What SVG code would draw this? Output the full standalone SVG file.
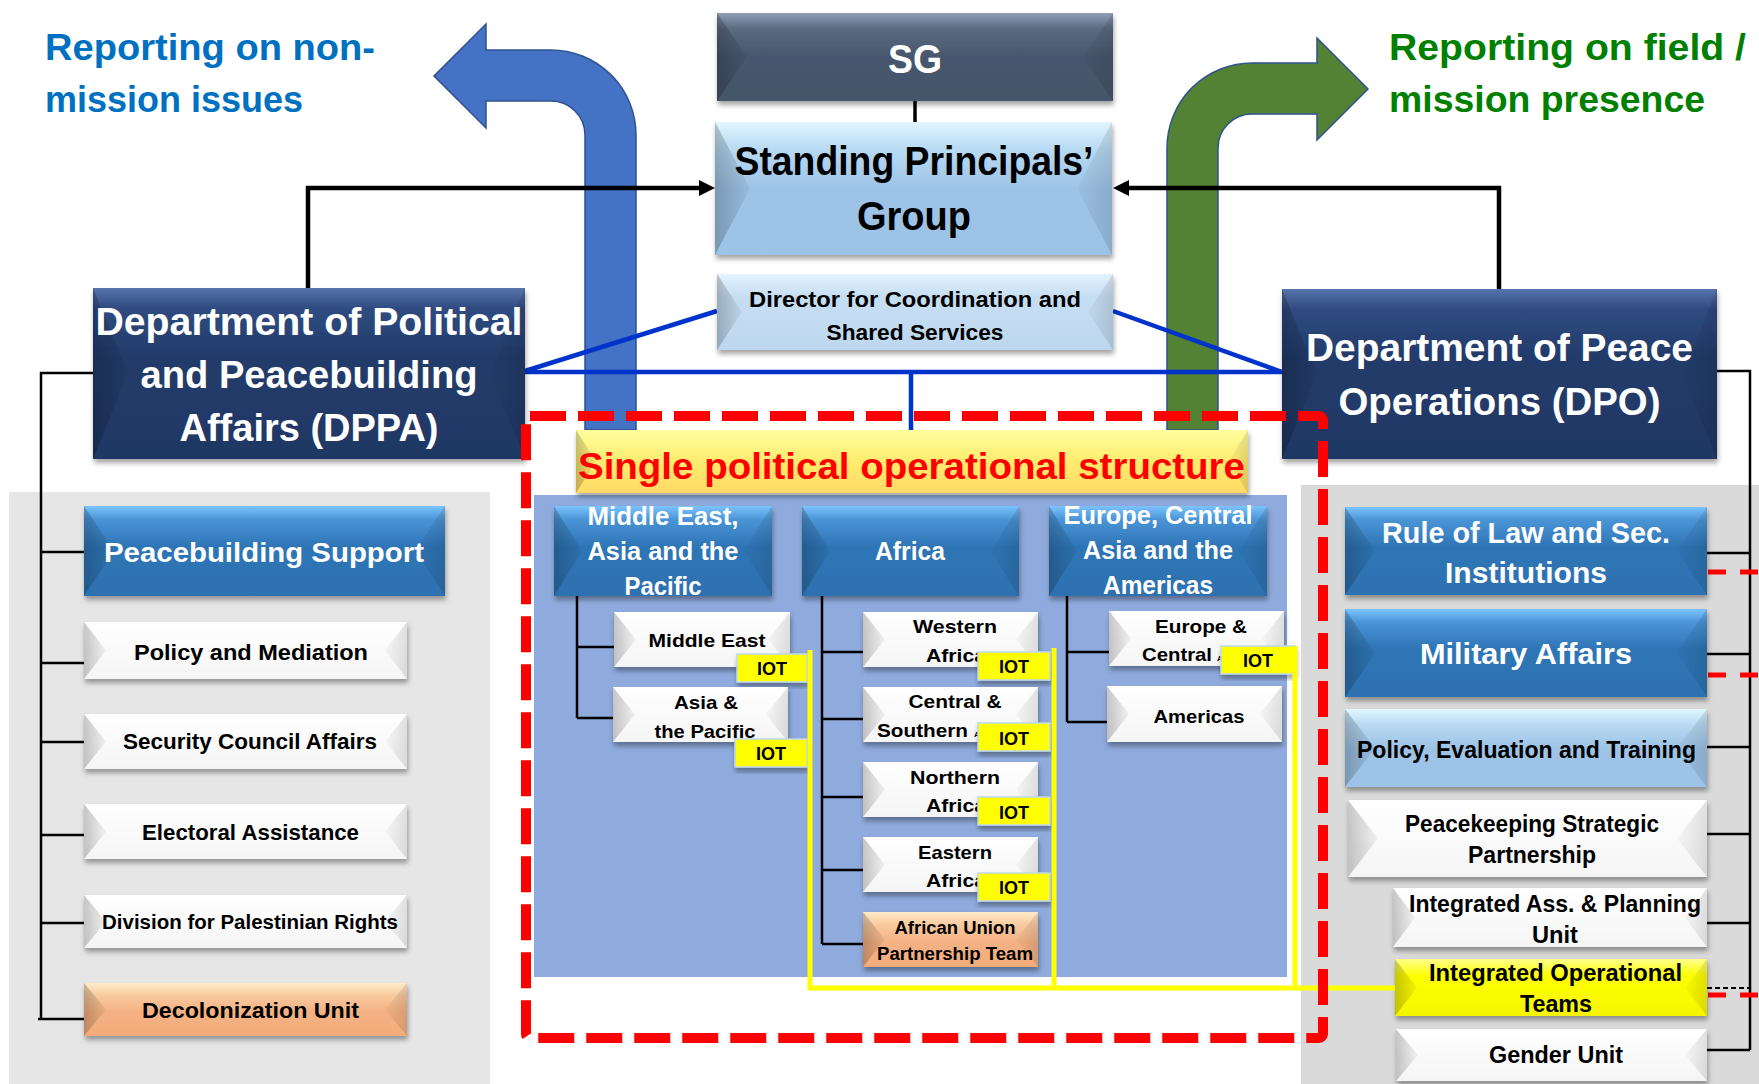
<svg xmlns="http://www.w3.org/2000/svg" width="1759" height="1084" viewBox="0 0 1759 1084">
<defs>
<style>
.t{font-family:"Liberation Sans",Arial,sans-serif;font-weight:bold;text-anchor:middle}
.tl{font-family:"Liberation Sans",Arial,sans-serif;font-weight:bold;text-anchor:start}
.w{fill:#fff}.k{fill:#000}
.fNavy{fill:url(#gNavy)}.fSlate{fill:url(#gSlate)}.fBlue{fill:url(#gBlue)}.fLB{fill:url(#gLB)}
.fDir{fill:url(#gDir)}.fWhite{fill:url(#gWhite)}.fPeach{fill:url(#gPeach)}.fYel{fill:url(#gYel)}.fTitle{fill:url(#gTitle)}
.bL{fill:url(#bvL)}.bR{fill:url(#bvR)}
.iot{fill:#FFFF00;stroke:#BDD7EE;stroke-width:1.5}
.conn{stroke:#000;stroke-width:2.5;fill:none}
.arr{stroke:#000;stroke-width:4.5;fill:none}
.bl{stroke:#0033CC;stroke-width:4.5;fill:none}
.yl{stroke:#FFFF00;stroke-width:5;fill:none}
.rd{stroke:#FF0000;stroke-width:10;stroke-dasharray:36 12;fill:none}
.rds{stroke:#FF0000;stroke-width:5;stroke-dasharray:18 14;fill:none}
</style>
<filter id="sh" x="-5%" y="-10%" width="112%" height="135%">
<feDropShadow dx="1" dy="4" stdDeviation="2.5" flood-color="#000" flood-opacity="0.35"/>
</filter>
<linearGradient id="gNavy" x1="0" y1="0" x2="0" y2="1"><stop offset="0" stop-color="#5673AB"/><stop offset="0.12" stop-color="#2F4B80"/><stop offset="0.4" stop-color="#223B6A"/><stop offset="1" stop-color="#1F3864"/></linearGradient>
<linearGradient id="gSlate" x1="0" y1="0" x2="0" y2="1"><stop offset="0" stop-color="#8D9EB6"/><stop offset="0.18" stop-color="#5A6A81"/><stop offset="0.5" stop-color="#47576E"/><stop offset="1" stop-color="#44546A"/></linearGradient>
<linearGradient id="gBlue" x1="0" y1="0" x2="0" y2="1"><stop offset="0" stop-color="#7CC4FF"/><stop offset="0.15" stop-color="#4A94D6"/><stop offset="0.45" stop-color="#2E75B6"/><stop offset="1" stop-color="#2E71B0"/></linearGradient>
<linearGradient id="gLB" x1="0" y1="0" x2="0" y2="1"><stop offset="0" stop-color="#E2F7FF"/><stop offset="0.2" stop-color="#B8DAF3"/><stop offset="0.5" stop-color="#9DC3E6"/><stop offset="1" stop-color="#9CC2E5"/></linearGradient>
<linearGradient id="gDir" x1="0" y1="0" x2="0" y2="1"><stop offset="0" stop-color="#E3F2FF"/><stop offset="0.3" stop-color="#C6DEF2"/><stop offset="1" stop-color="#BDD7EE"/></linearGradient>
<linearGradient id="gWhite" x1="0" y1="0" x2="0" y2="1"><stop offset="0" stop-color="#FFFFFF"/><stop offset="1" stop-color="#F5F5F5"/></linearGradient>
<linearGradient id="gPeach" x1="0" y1="0" x2="0" y2="1"><stop offset="0" stop-color="#FFEBC9"/><stop offset="0.25" stop-color="#F8C89C"/><stop offset="0.55" stop-color="#F4B183"/><stop offset="1" stop-color="#F2AC7B"/></linearGradient>
<linearGradient id="gYel" x1="0" y1="0" x2="0" y2="1"><stop offset="0" stop-color="#FFFF8C"/><stop offset="0.3" stop-color="#FFFF00"/><stop offset="1" stop-color="#F5F500"/></linearGradient>
<linearGradient id="gTitle" x1="0" y1="0" x2="0" y2="1"><stop offset="0" stop-color="#FFFFA0"/><stop offset="0.5" stop-color="#FFEC6E"/><stop offset="1" stop-color="#FFD966"/></linearGradient>
<linearGradient id="bvL" x1="0" y1="0" x2="1" y2="0"><stop offset="0" stop-color="#000" stop-opacity="0.22"/><stop offset="1" stop-color="#000" stop-opacity="0.04"/></linearGradient>
<linearGradient id="bvR" x1="0" y1="0" x2="1" y2="0"><stop offset="0" stop-color="#000" stop-opacity="0.02"/><stop offset="1" stop-color="#000" stop-opacity="0.12"/></linearGradient>
<marker id="ah" viewBox="0 0 10 10" refX="2.5" refY="5" markerWidth="16" markerHeight="17" markerUnits="userSpaceOnUse" orient="auto"><path d="M0,0 L10,5 L0,10 z" fill="#000"/></marker>
</defs>

<rect x="0" y="0" width="1759" height="1084" fill="#fff"/>

<!-- background panels -->
<rect x="9" y="492" width="481" height="592" fill="#E6E6E6"/>
<rect x="1301" y="485" width="458" height="599" fill="#DADADA"/>
<rect x="534" y="495" width="753" height="482" fill="#8FAADC"/>

<!-- headline texts -->
<g id="label-left">
<text class="tl" x="45" y="60" font-size="37" fill="#0070C0" textLength="330" lengthAdjust="spacingAndGlyphs">Reporting on non-</text>
<text class="tl" x="45" y="112" font-size="37" fill="#0070C0" textLength="258" lengthAdjust="spacingAndGlyphs">mission issues</text>
</g>
<g id="label-right">
<text class="tl" x="1389" y="60" font-size="37" fill="#008000" textLength="357" lengthAdjust="spacingAndGlyphs">Reporting on field /</text>
<text class="tl" x="1389" y="112" font-size="37" fill="#008000" textLength="316" lengthAdjust="spacingAndGlyphs">mission presence</text>
</g>

<!-- bent arrows -->
<g id="arrow-blue">
<path d="M636,430 L636,135 A85,85 0 0 0 551,50 L486,50 L486,24 L434,76 L486,128 L486,101 L551,101 A34,34 0 0 1 585,135 L585,430 Z" fill="#4472C4" stroke="#2F528F" stroke-width="1.5"/>
</g>
<g id="arrow-green">
<path d="M1167,430 L1167,148 A85,85 0 0 1 1252,63 L1317,63 L1317,38 L1368,89 L1317,140 L1317,114 L1252,114 A34,34 0 0 0 1218,148 L1218,430 Z" fill="#548235" stroke="#2F528F" stroke-width="1.5"/>
</g>

<!-- connectors -->
<g id="connectors">
<line x1="915" y1="101" x2="915" y2="122" stroke="#000" stroke-width="3.5"/>
<polyline class="arr" points="308,288 308,188 703,188" marker-end="url(#ah)"/>
<polyline class="arr" points="1499,289 1499,188 1125,188" marker-end="url(#ah)"/>
<line class="bl" x1="717" y1="311" x2="525" y2="371"/>
<line class="bl" x1="525" y1="372" x2="1282" y2="372"/>
<line class="bl" x1="1113" y1="311" x2="1282" y2="372"/>
<line class="bl" x1="911" y1="372" x2="911" y2="430"/>
<path class="conn" d="M93,373 H41 V1019 M41,552 H84 M41,663 H84 M41,742 H84 M41,835 H84 M41,923 H84 M38,1019 H84"/>
<path class="conn" d="M1717,371 H1750 V1050 M1707,553 H1750 M1707,654 H1750 M1707,747 H1750 M1707,834 H1750 M1707,923 H1750 M1707,1050 H1750"/>
<path d="M1707,988 H1750" stroke="#000" stroke-width="2" stroke-dasharray="5 3" fill="none"/>
<path class="rds" d="M1708,572 H1759 M1708,675 H1759 M1708,995 H1759"/>
<path class="conn" d="M577,596 V718 M577,647 H614 M577,718 H613"/>
<path class="conn" d="M822,596 V944 M822,652 H863 M822,719 H863 M822,797 H863 M822,870 H863 M822,944 H863"/>
<path class="conn" d="M1067,596 V722 M1067,652 H1109 M1067,722 H1107"/>
</g>

<!-- top nodes -->
<g id="sg">
<rect x="717" y="13" width="396" height="88" class="fSlate" filter="url(#sh)"/>
<polygon class="bL" points="717,13 747,57 717,101"/><polygon class="bR" points="1113,13 1083,57 1113,101"/>
<text class="t w" x="915" y="73" font-size="40" textLength="54" lengthAdjust="spacingAndGlyphs">SG</text>
</g>
<g id="spg">
<rect x="715" y="122" width="397" height="133" class="fLB" filter="url(#sh)"/>
<polygon class="bL" points="715,122 750,188.5 715,255"/><polygon class="bR" points="1112,122 1077,188.5 1112,255"/>
<text class="t k" x="914" y="175" font-size="40" textLength="359" lengthAdjust="spacingAndGlyphs">Standing Principals’</text>
<text class="t k" x="914" y="230" font-size="40" textLength="114" lengthAdjust="spacingAndGlyphs">Group</text>
</g>
<g id="director">
<rect x="717" y="274" width="396" height="76" class="fDir" filter="url(#sh)"/>
<polygon class="bL" points="717,274 742,312 717,350"/><polygon class="bR" points="1113,274 1088,312 1113,350"/>
<text class="t k" x="915" y="307" font-size="22" textLength="332" lengthAdjust="spacingAndGlyphs">Director for Coordination and</text>
<text class="t k" x="915" y="340" font-size="22" textLength="177" lengthAdjust="spacingAndGlyphs">Shared Services</text>
</g>
<g id="dppa">
<rect x="93" y="288" width="432" height="171" class="fNavy" filter="url(#sh)"/>
<polygon class="bL" points="93,288 128,373.5 93,459"/><polygon class="bR" points="525,288 490,373.5 525,459"/>
<text class="t w" x="309" y="335" font-size="38" textLength="427" lengthAdjust="spacingAndGlyphs">Department of Political</text>
<text class="t w" x="309" y="388" font-size="38" textLength="337" lengthAdjust="spacingAndGlyphs">and Peacebuilding</text>
<text class="t w" x="309" y="441" font-size="38" textLength="259" lengthAdjust="spacingAndGlyphs">Affairs (DPPA)</text>
</g>
<g id="dpo">
<rect x="1282" y="289" width="435" height="170" class="fNavy" filter="url(#sh)"/>
<polygon class="bL" points="1282,289 1317,374 1282,459"/><polygon class="bR" points="1717,289 1682,374 1717,459"/>
<text class="t w" x="1499.5" y="361" font-size="39" textLength="387" lengthAdjust="spacingAndGlyphs">Department of Peace</text>
<text class="t w" x="1499.5" y="415" font-size="39" textLength="322" lengthAdjust="spacingAndGlyphs">Operations (DPO)</text>
</g>
<g id="title">
<rect x="576" y="430" width="672" height="63" class="fTitle" filter="url(#sh)"/>
<polygon class="bL" points="576,430 596,461.5 576,493"/><polygon class="bR" points="1248,430 1228,461.5 1248,493"/>
<text class="t" x="911.5" y="479" font-size="36" fill="#FF0000" textLength="667" lengthAdjust="spacingAndGlyphs">Single political operational structure</text>
</g>

<!-- DPPA units -->
<g id="peacebuilding">
<rect x="84" y="506" width="361" height="90" class="fBlue" filter="url(#sh)"/>
<polygon class="bL" points="84,506 114,551 84,596"/><polygon class="bR" points="445,506 415,551 445,596"/>
<text class="t w" x="264" y="562" font-size="27" textLength="320" lengthAdjust="spacingAndGlyphs">Peacebuilding Support</text>
</g>
<g id="policy-mediation">
<rect x="84" y="622" width="323" height="57" class="fWhite" filter="url(#sh)"/>
<polygon class="bL" points="84,622 106,650.5 84,679"/><polygon class="bR" points="407,622 385,650.5 407,679"/>
<text class="t k" x="251" y="660" font-size="22" textLength="234" lengthAdjust="spacingAndGlyphs">Policy and Mediation</text>
</g>
<g id="security-council">
<rect x="84" y="714" width="323" height="55" class="fWhite" filter="url(#sh)"/>
<polygon class="bL" points="84,714 106,741.5 84,769"/><polygon class="bR" points="407,714 385,741.5 407,769"/>
<text class="t k" x="250" y="749" font-size="22" textLength="254" lengthAdjust="spacingAndGlyphs">Security Council Affairs</text>
</g>
<g id="electoral">
<rect x="84" y="804" width="323" height="55" class="fWhite" filter="url(#sh)"/>
<polygon class="bL" points="84,804 106,831.5 84,859"/><polygon class="bR" points="407,804 385,831.5 407,859"/>
<text class="t k" x="250.5" y="840" font-size="22" textLength="217" lengthAdjust="spacingAndGlyphs">Electoral Assistance</text>
</g>
<g id="palestinian">
<rect x="84" y="895" width="323" height="53" class="fWhite" filter="url(#sh)"/>
<polygon class="bL" points="84,895 106,921.5 84,948"/><polygon class="bR" points="407,895 385,921.5 407,948"/>
<text class="t k" x="250" y="929" font-size="20" textLength="296" lengthAdjust="spacingAndGlyphs">Division for Palestinian Rights</text>
</g>
<g id="decolonization">
<rect x="84" y="983" width="323" height="53" class="fPeach" filter="url(#sh)"/>
<polygon class="bL" points="84,983 106,1009.5 84,1036"/><polygon class="bR" points="407,983 385,1009.5 407,1036"/>
<text class="t k" x="250.5" y="1018" font-size="22" textLength="217" lengthAdjust="spacingAndGlyphs">Decolonization Unit</text>
</g>

<!-- regional divisions -->
<g id="hdr-meap">
<rect x="554" y="506" width="218" height="90" class="fBlue" filter="url(#sh)"/>
<polygon class="bL" points="554,506 582,551 554,596"/><polygon class="bR" points="772,506 744,551 772,596"/>
<text class="t w" x="663" y="525" font-size="25" textLength="151" lengthAdjust="spacingAndGlyphs">Middle East,</text>
<text class="t w" x="663" y="560" font-size="25" textLength="151" lengthAdjust="spacingAndGlyphs">Asia and the</text>
<text class="t w" x="663" y="595" font-size="25" textLength="77" lengthAdjust="spacingAndGlyphs">Pacific</text>
</g>
<g id="hdr-africa">
<rect x="802" y="506" width="217" height="90" class="fBlue" filter="url(#sh)"/>
<polygon class="bL" points="802,506 830,551 802,596"/><polygon class="bR" points="1019,506 991,551 1019,596"/>
<text class="t w" x="910" y="560" font-size="25" textLength="70" lengthAdjust="spacingAndGlyphs">Africa</text>
</g>
<g id="hdr-europe">
<rect x="1049" y="506" width="218" height="90" class="fBlue" filter="url(#sh)"/>
<polygon class="bL" points="1049,506 1077,551 1049,596"/><polygon class="bR" points="1267,506 1239,551 1267,596"/>
<text class="t w" x="1158" y="524" font-size="25" textLength="189" lengthAdjust="spacingAndGlyphs">Europe, Central</text>
<text class="t w" x="1158" y="559" font-size="25" textLength="150" lengthAdjust="spacingAndGlyphs">Asia and the</text>
<text class="t w" x="1158" y="594" font-size="25" textLength="110" lengthAdjust="spacingAndGlyphs">Americas</text>
</g>

<g id="middle-east">
<rect x="614" y="612" width="176" height="55" class="fWhite" filter="url(#sh)"/>
<polygon class="bL" points="614,612 636,639.5 614,667"/><polygon class="bR" points="790,612 768,639.5 790,667"/>
<text class="t k" x="707" y="647" font-size="19" textLength="117" lengthAdjust="spacingAndGlyphs">Middle East</text>
<rect x="737" y="654" width="70" height="28" class="iot" filter="url(#sh)"/>
<text class="t k" x="772" y="675" font-size="18" textLength="30" lengthAdjust="spacingAndGlyphs">IOT</text>
</g>
<g id="asia-pacific">
<rect x="613" y="687" width="175" height="55" class="fWhite" filter="url(#sh)"/>
<polygon class="bL" points="613,687 635,714.5 613,742"/><polygon class="bR" points="788,687 766,714.5 788,742"/>
<text class="t k" x="706" y="709" font-size="19" textLength="64" lengthAdjust="spacingAndGlyphs">Asia &amp;</text>
<text class="t k" x="705" y="738" font-size="19" textLength="101" lengthAdjust="spacingAndGlyphs">the Pacific</text>
<rect x="735" y="739" width="72" height="28" class="iot" filter="url(#sh)"/>
<text class="t k" x="771" y="760" font-size="18" textLength="30" lengthAdjust="spacingAndGlyphs">IOT</text>
</g>

<g id="western-africa">
<rect x="863" y="612" width="175" height="55" class="fWhite" filter="url(#sh)"/>
<polygon class="bL" points="863,612 885,639.5 863,667"/><polygon class="bR" points="1038,612 1016,639.5 1038,667"/>
<text class="t k" x="955" y="633" font-size="19" textLength="84" lengthAdjust="spacingAndGlyphs">Western</text>
<text class="t k" x="956" y="662" font-size="19" textLength="60" lengthAdjust="spacingAndGlyphs">Africa</text>
<rect x="978" y="652" width="72" height="28" class="iot" filter="url(#sh)"/>
<text class="t k" x="1014" y="673" font-size="18" textLength="30" lengthAdjust="spacingAndGlyphs">IOT</text>
</g>
<g id="central-southern-africa">
<rect x="863" y="687" width="175" height="55" class="fWhite" filter="url(#sh)"/>
<polygon class="bL" points="863,687 885,714.5 863,742"/><polygon class="bR" points="1038,687 1016,714.5 1038,742"/>
<text class="t k" x="955" y="708" font-size="19" textLength="93" lengthAdjust="spacingAndGlyphs">Central &amp;</text>
<text class="tl k" x="877" y="737" font-size="19" textLength="91" lengthAdjust="spacingAndGlyphs">Southern</text>
<text class="tl k" x="974" y="737" font-size="8">Africa</text>
<rect x="978" y="723" width="72" height="28" class="iot" filter="url(#sh)"/>
<text class="t k" x="1014" y="745" font-size="18" textLength="30" lengthAdjust="spacingAndGlyphs">IOT</text>
</g>
<g id="northern-africa">
<rect x="863" y="762" width="175" height="55" class="fWhite" filter="url(#sh)"/>
<polygon class="bL" points="863,762 885,789.5 863,817"/><polygon class="bR" points="1038,762 1016,789.5 1038,817"/>
<text class="t k" x="955" y="784" font-size="19" textLength="90" lengthAdjust="spacingAndGlyphs">Northern</text>
<text class="t k" x="956" y="812" font-size="19" textLength="60" lengthAdjust="spacingAndGlyphs">Africa</text>
<rect x="978" y="797" width="72" height="28" class="iot" filter="url(#sh)"/>
<text class="t k" x="1014" y="819" font-size="18" textLength="30" lengthAdjust="spacingAndGlyphs">IOT</text>
</g>
<g id="eastern-africa">
<rect x="863" y="837" width="175" height="55" class="fWhite" filter="url(#sh)"/>
<polygon class="bL" points="863,837 885,864.5 863,892"/><polygon class="bR" points="1038,837 1016,864.5 1038,892"/>
<text class="t k" x="955" y="859" font-size="19" textLength="74" lengthAdjust="spacingAndGlyphs">Eastern</text>
<text class="t k" x="956" y="887" font-size="19" textLength="60" lengthAdjust="spacingAndGlyphs">Africa</text>
<rect x="978" y="873" width="72" height="28" class="iot" filter="url(#sh)"/>
<text class="t k" x="1014" y="894" font-size="18" textLength="30" lengthAdjust="spacingAndGlyphs">IOT</text>
</g>
<g id="african-union">
<rect x="863" y="912" width="175" height="55" class="fPeach" filter="url(#sh)"/>
<polygon class="bL" points="863,912 885,939.5 863,967"/><polygon class="bR" points="1038,912 1016,939.5 1038,967"/>
<text class="t k" x="955" y="934" font-size="18" textLength="121" lengthAdjust="spacingAndGlyphs">African Union</text>
<text class="t k" x="955" y="960" font-size="18" textLength="156" lengthAdjust="spacingAndGlyphs">Partnership Team</text>
</g>

<g id="europe-central">
<rect x="1109" y="611" width="175" height="55" class="fWhite" filter="url(#sh)"/>
<polygon class="bL" points="1109,611 1131,638.5 1109,666"/><polygon class="bR" points="1284,611 1262,638.5 1284,666"/>
<text class="t k" x="1201" y="633" font-size="19" textLength="92" lengthAdjust="spacingAndGlyphs">Europe &amp;</text>
<text class="tl k" x="1142" y="661" font-size="19" textLength="70" lengthAdjust="spacingAndGlyphs">Central</text>
<text class="tl k" x="1217" y="661" font-size="8">Asia</text>
<rect x="1221" y="646" width="74" height="28" class="iot" filter="url(#sh)"/>
<text class="t k" x="1258" y="667" font-size="18" textLength="30" lengthAdjust="spacingAndGlyphs">IOT</text>
</g>
<g id="americas">
<rect x="1107" y="686" width="175" height="56" class="fWhite" filter="url(#sh)"/>
<polygon class="bL" points="1107,686 1129,714 1107,742"/><polygon class="bR" points="1282,686 1260,714 1282,742"/>
<text class="t k" x="1199" y="723" font-size="19" textLength="91" lengthAdjust="spacingAndGlyphs">Americas</text>
</g>

<!-- DPO units -->
<g id="rule-of-law">
<rect x="1345" y="507" width="362" height="88" class="fBlue" filter="url(#sh)"/>
<polygon class="bL" points="1345,507 1375,551 1345,595"/><polygon class="bR" points="1707,507 1677,551 1707,595"/>
<text class="t w" x="1526" y="543" font-size="29" textLength="288" lengthAdjust="spacingAndGlyphs">Rule of Law and Sec.</text>
<text class="t w" x="1526" y="583" font-size="29" textLength="162" lengthAdjust="spacingAndGlyphs">Institutions</text>
</g>
<g id="military">
<rect x="1345" y="609" width="362" height="88" class="fBlue" filter="url(#sh)"/>
<polygon class="bL" points="1345,609 1375,653 1345,697"/><polygon class="bR" points="1707,609 1677,653 1707,697"/>
<text class="t w" x="1526" y="664" font-size="29" textLength="212" lengthAdjust="spacingAndGlyphs">Military Affairs</text>
</g>
<g id="policy-eval">
<rect x="1345" y="709" width="362" height="78" class="fLB" filter="url(#sh)"/>
<polygon class="bL" points="1345,709 1375,748 1345,787"/><polygon class="bR" points="1707,709 1677,748 1707,787"/>
<text class="t k" x="1526.5" y="758" font-size="23" textLength="339" lengthAdjust="spacingAndGlyphs">Policy, Evaluation and Training</text>
</g>
<g id="peacekeeping-partnership">
<rect x="1348" y="800" width="359" height="77" class="fWhite" filter="url(#sh)"/>
<polygon class="bL" points="1348,800 1378,838.5 1348,877"/><polygon class="bR" points="1707,800 1677,838.5 1707,877"/>
<text class="t k" x="1532" y="832" font-size="23" textLength="254" lengthAdjust="spacingAndGlyphs">Peacekeeping Strategic</text>
<text class="t k" x="1532" y="863" font-size="23" textLength="128" lengthAdjust="spacingAndGlyphs">Partnership</text>
</g>
<g id="integrated-assessment">
<rect x="1393" y="888" width="314" height="59" class="fWhite" filter="url(#sh)"/>
<polygon class="bL" points="1393,888 1415,917.5 1393,947"/><polygon class="bR" points="1707,888 1685,917.5 1707,947"/>
<text class="t k" x="1555" y="912" font-size="23" textLength="292" lengthAdjust="spacingAndGlyphs">Integrated Ass. &amp; Planning</text>
<text class="t k" x="1555" y="943" font-size="23" textLength="46" lengthAdjust="spacingAndGlyphs">Unit</text>
</g>
<g id="integrated-operational-teams">
<rect x="1395" y="959" width="312" height="57" class="fYel" filter="url(#sh)"/>
<polygon class="bL" points="1395,959 1417,987.5 1395,1016"/><polygon class="bR" points="1707,959 1685,987.5 1707,1016"/>
<text class="t k" x="1555.5" y="981" font-size="23" textLength="253" lengthAdjust="spacingAndGlyphs">Integrated Operational</text>
<text class="t k" x="1556" y="1012" font-size="23" textLength="72" lengthAdjust="spacingAndGlyphs">Teams</text>
</g>
<g id="gender">
<rect x="1396" y="1029" width="311" height="52" class="fWhite" filter="url(#sh)"/>
<polygon class="bL" points="1396,1029 1418,1055 1396,1081"/><polygon class="bR" points="1707,1029 1685,1055 1707,1081"/>
<text class="t k" x="1556" y="1063" font-size="23" textLength="134" lengthAdjust="spacingAndGlyphs">Gender Unit</text>
</g>

<!-- IOT yellow links -->
<g id="iot-links">
<path class="yl" d="M810,650 V988 H1395 M1054,648 V988 M1295,646 V988"/>
</g>

<!-- single structure boundary -->
<g id="boundary">
<rect class="rd" x="526" y="416" width="797" height="622" rx="4"/>
</g>
</svg>
